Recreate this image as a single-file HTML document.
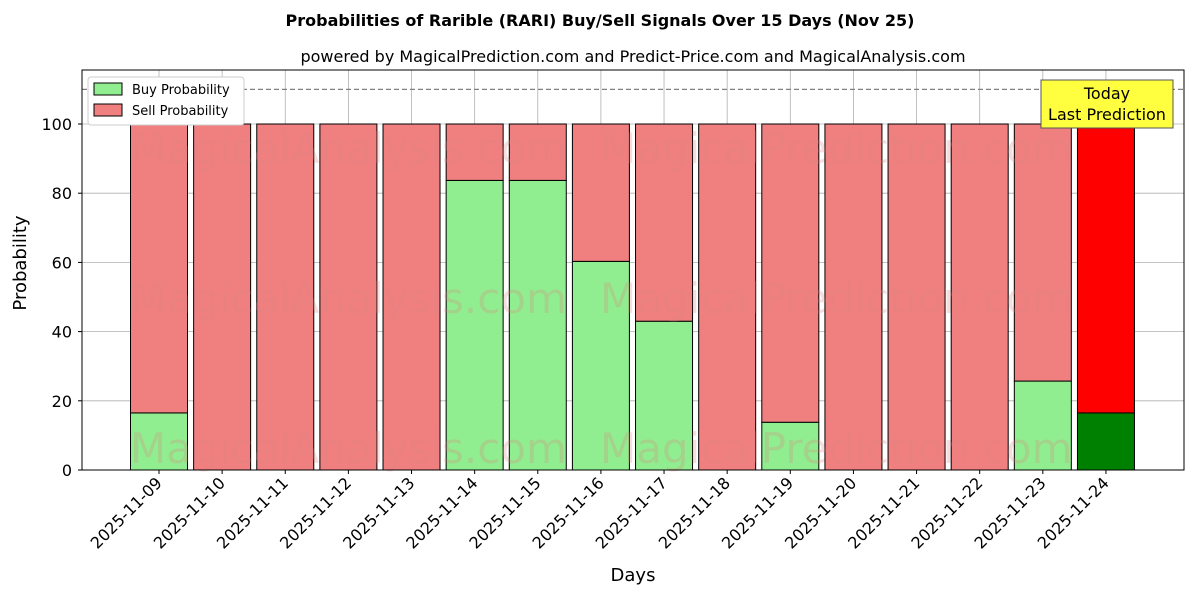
<!DOCTYPE html>
<html><head><meta charset="utf-8"><style>
body{margin:0;background:#fff;font-family:"DejaVu Sans","Liberation Sans",sans-serif;}
</style></head><body>
<svg id="chart" width="1200" height="600" xmlns="http://www.w3.org/2000/svg" font-family="DejaVu Sans, Liberation Sans, sans-serif">
<text x="600" y="26" text-anchor="middle" font-size="16" font-weight="bold">Probabilities of Rarible (RARI) Buy/Sell Signals Over 15 Days (Nov 25)</text>
<text x="633" y="62" text-anchor="middle" font-size="16">powered by MagicalPrediction.com and Predict-Price.com and MagicalAnalysis.com</text>
<g id="grid"></g>
<g id="bars"></g>
<g id="wm" fill="#e08080" opacity="0.25" font-size="42">
<text x="130" y="163">MagicalAnalysis.com</text>
<text x="600" y="163">MagicalPrediction.com</text>
<text x="130" y="313">MagicalAnalysis.com</text>
<text x="600" y="313">MagicalPrediction.com</text>
<text x="130" y="463">MagicalAnalysis.com</text>
<text x="600" y="463">MagicalPrediction.com</text>
</g>
<line x1="82" x2="1184" y1="89.4" y2="89.4" stroke="#808080" stroke-dasharray="5,3" stroke-width="1.2"/>
<rect x="82" y="70" width="1102" height="400" fill="none" stroke="#000" stroke-width="1"/>
<g id="axes"></g>
<text x="35" y="272" transform="rotate(-90 26 272)" text-anchor="middle" font-size="18">Probability</text>
<text x="633" y="581" text-anchor="middle" font-size="18">Days</text>
<g>
<rect x="88" y="77" width="156" height="48" fill="#fff" stroke="#ccc" rx="3"/>
<rect x="94" y="83" width="28" height="12" fill="#90ee90" stroke="#000"/>
<text x="132" y="94" font-size="13">Buy Probability</text>
<rect x="94" y="104" width="28" height="12" fill="#f08080" stroke="#000"/>
<text x="132" y="115" font-size="13">Sell Probability</text>
</g>
<g>
<rect x="1041" y="80" width="132" height="48" fill="#ffff40" stroke="#555"/>
<text x="1107" y="99" text-anchor="middle" font-size="16">Today</text>
<text x="1107" y="120" text-anchor="middle" font-size="16">Last Prediction</text>
</g>
</svg>
<script>
const categories=["2025-11-09","2025-11-10","2025-11-11","2025-11-12","2025-11-13","2025-11-14","2025-11-15","2025-11-16","2025-11-17","2025-11-18","2025-11-19","2025-11-20","2025-11-21","2025-11-22","2025-11-23","2025-11-24"];
const buyValues=[16.5,0,0,0,0,83.7,83.7,60.3,43,0,13.8,0,0,0,25.7,16.5];
const sellValues=buyValues.map(v=>100-v);
const yTicks=[0,20,40,60,80,100];
const NS="http://www.w3.org/2000/svg";
const yS=v=>470-v*3.46;
const xS=i=>159+i*63.13;
const bw=57;
function mk(t,a,p){const e=document.createElementNS(NS,t);for(const k in a)e.setAttribute(k,a[k]);p.appendChild(e);return e;}
const grid=document.getElementById('grid'),bars=document.getElementById('bars'),axes=document.getElementById('axes');
yTicks.forEach(v=>{
 const g=mk('line',{x1:82,x2:1184,y1:yS(v),y2:yS(v),stroke:'#b0b0b0','stroke-width':0.8},grid);
 
 
 mk('line',{x1:78,x2:82,y1:yS(v),y2:yS(v),stroke:'#000'},axes);
 const t=mk('text',{x:72,y:yS(v)+6,'text-anchor':'end','font-size':16},axes);t.textContent=v;
 
 
});
categories.forEach((c,i)=>{
 const x=xS(i);
 const g=mk('line',{x1:x,x2:x,y1:70,y2:470,stroke:'#b0b0b0','stroke-width':0.8},grid);
 
 
 const last=i===categories.length-1;
 const b=mk('rect',{x:x-bw/2,y:yS(buyValues[i]),width:bw,height:yS(0)-yS(buyValues[i]),fill:last?'#008000':'#90ee90',stroke:'#000','stroke-width':1},bars);
 
 
 const s=mk('rect',{x:x-bw/2,y:yS(100),width:bw,height:yS(buyValues[i])-yS(100),fill:last?'#ff0000':'#f08080',stroke:'#000','stroke-width':1},bars);
 
 
 mk('line',{x1:x,x2:x,y1:470,y2:474,stroke:'#000'},axes);
 const t=mk('text',{x:x+4,y:484,'text-anchor':'end','font-size':16,transform:`rotate(-45 ${x+4} 484)`},axes);t.textContent=c;
 
 
});
</script>
</body></html>
